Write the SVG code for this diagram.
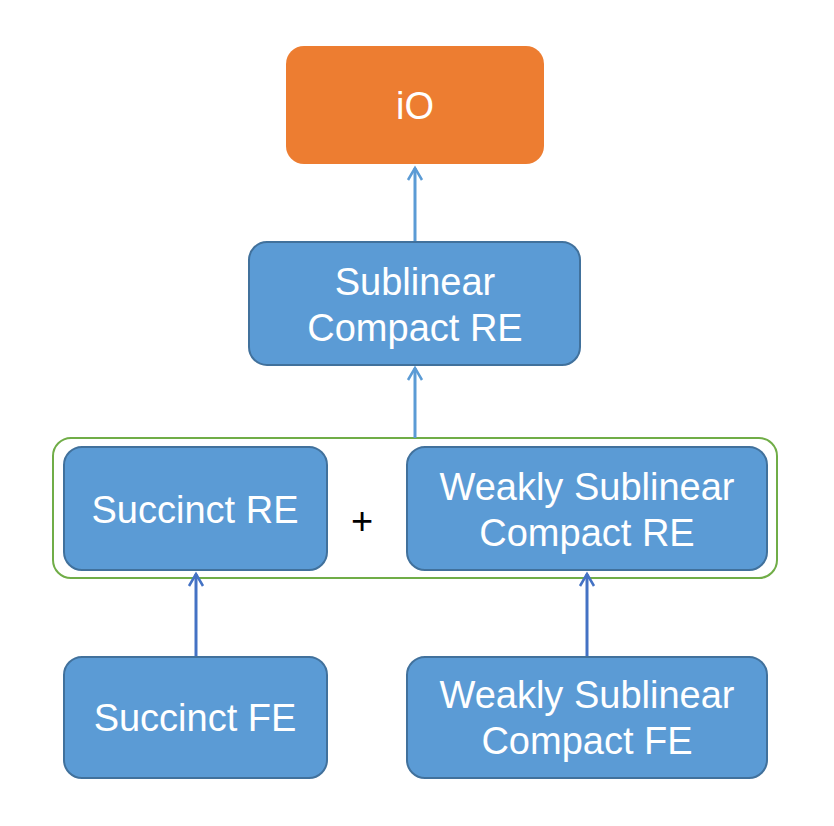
<svg xmlns="http://www.w3.org/2000/svg" width="834" height="826" viewBox="0 0 834 826">
<style>
.node{fill:#5B9BD5;stroke:#41719C;stroke-width:2}
.t{font-family:"Liberation Sans",Arial,sans-serif;font-size:38px;fill:#FFFFFF;text-anchor:middle}
.c1{stroke:#5B9BD5;stroke-width:3;fill:none}
.c2{stroke:#4472C4;stroke-width:3;fill:none}
.h{stroke-width:2.5;stroke-linejoin:miter}
</style>
<rect width="834" height="826" fill="#FFFFFF"/>
<g id="group-box">
<rect x="53" y="438" width="724" height="140" rx="18" fill="none" stroke="#70AD47" stroke-width="2"/>
<text x="362" y="534" style="font-family:'Liberation Sans',Arial,sans-serif;font-size:38px;fill:#000000;text-anchor:middle">+</text>
</g>
<g id="connectors">
<path class="c1" d="M415,242 V168"/>
<path class="c1 h" d="M408,180 L415,168 L422,180"/>
<path class="c1" d="M415,438 V368"/>
<path class="c1 h" d="M408,380 L415,368 L422,380"/>
<path class="c2" d="M196,657 V574"/>
<path class="c2 h" d="M189,586 L196,574 L203,586"/>
<path class="c2" d="M587,657 V574"/>
<path class="c2 h" d="M580,586 L587,574 L594,586"/>
</g>
<g id="node-io">
<rect x="286" y="46" width="258" height="118" rx="18" fill="#ED7D31"/>
<text class="t" x="415" y="119">iO</text>
</g>
<g id="node-sublinear-re">
<rect class="node" x="249" y="242" width="331" height="123" rx="18"/>
<text class="t" x="415" y="295">Sublinear</text>
<text class="t" x="415" y="341">Compact RE</text>
</g>
<g id="node-succinct-re">
<rect class="node" x="64" y="447" width="263" height="123" rx="18"/>
<text class="t" x="195" y="523">Succinct RE</text>
</g>
<g id="node-weakly-re">
<rect class="node" x="407" y="447" width="360" height="123" rx="18"/>
<text class="t" x="587" y="500">Weakly Sublinear</text>
<text class="t" x="587" y="546">Compact RE</text>
</g>
<g id="node-succinct-fe">
<rect class="node" x="64" y="657" width="263" height="121" rx="18"/>
<text class="t" x="195" y="731">Succinct FE</text>
</g>
<g id="node-weakly-fe">
<rect class="node" x="407" y="657" width="360" height="121" rx="18"/>
<text class="t" x="587" y="708">Weakly Sublinear</text>
<text class="t" x="587" y="754">Compact FE</text>
</g>
</svg>
